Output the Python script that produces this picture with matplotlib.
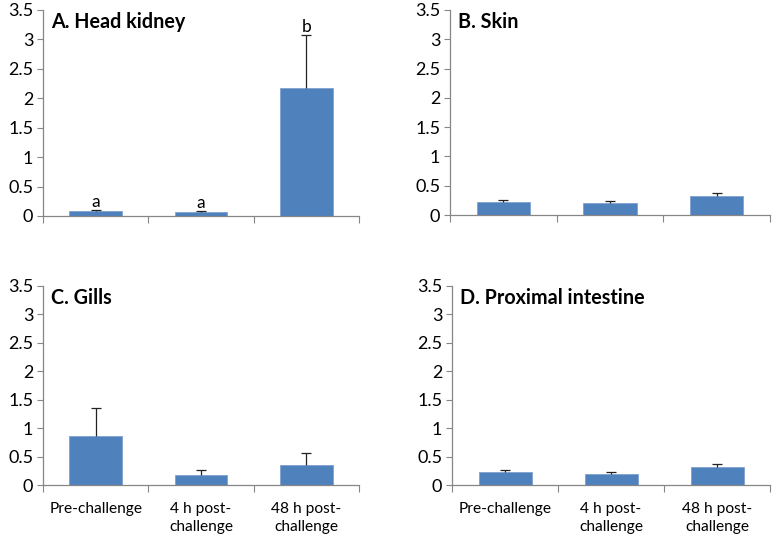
import numpy as np
import matplotlib.pyplot as plt
from matplotlib.ticker import FixedLocator, FuncFormatter

plt.rcParams['font.family'] = ['Lato', 'DejaVu Sans']

categories = ['Pre-challenge', '4 h post-\nchallenge', '48 h post-\nchallenge']
titles = ['A. Head kidney', 'B. Skin', 'C. Gills', 'D. Proximal intestine']
means = [
    [0.085, 0.07, 2.17],
    [0.23, 0.20, 0.32],
    [0.86, 0.18, 0.35],
    [0.23, 0.20, 0.32],
]
errors = [
    [0.025, 0.02, 0.90],
    [0.03, 0.04, 0.05],
    [0.50, 0.09, 0.22],
    [0.03, 0.035, 0.055],
]
letters = [['a', 'a', 'b'], None, None, None]

bar_color = '#4F81BD'
axis_color = '#868686'

fig = plt.figure(figsize=(7.76, 5.39), dpi=100)
W, H = 776, 539
boxes = [(43, 10, 359, 216), (450, 10, 770, 215), (43, 286, 359, 485), (452, 286, 770, 485)]

x = np.arange(len(categories))
for i, (l, t, r, b) in enumerate(boxes):
    ax = fig.add_axes([l / W, 1 - b / H, (r - l) / W, (b - t) / H])
    ax.bar(x, means[i], width=0.5, color=bar_color, edgecolor='#7FA2D0', linewidth=0.6, zorder=2)
    eb = ax.errorbar(x, means[i], yerr=[np.zeros(3), errors[i]], fmt='none', ecolor='#222222',
                     elinewidth=0.9, capsize=3.5, capthick=0.9, zorder=3)
    eb[1][0].set_visible(False)
    if letters[i]:
        for xi, m, e, s in zip(x, means[i], errors[i], letters[i]):
            ax.text(xi, m + e, s, ha='center', va='bottom', fontsize=12.5)
    ax.set_xlim(-0.5, 2.5)
    ax.set_ylim(0, 3.5)
    ax.set_yticks(np.arange(0, 3.51, 0.5))
    ax.yaxis.set_major_formatter(FuncFormatter(lambda v, p: f'{v:g}'))
    ax.xaxis.set_major_locator(FixedLocator([-0.5, 0.5, 1.5, 2.5]))
    ax.set_xticklabels([])
    ax.xaxis.set_minor_locator(FixedLocator(x))
    if i >= 2:
        ax.set_xticklabels(categories, minor=True, fontsize=11.2, linespacing=1.4)
    ax.tick_params(axis='x', which='minor', length=0, pad=12)
    ax.tick_params(axis='x', which='major', length=5, color=axis_color, direction='out')
    ax.tick_params(axis='y', length=4, color=axis_color, labelsize=13, pad=3)
    for s in ['top', 'right']:
        ax.spines[s].set_visible(False)
    for s in ['left', 'bottom']:
        ax.spines[s].set_color(axis_color)
        ax.spines[s].set_linewidth(0.9)
    ax.text(0.025, 0.99, titles[i], transform=ax.transAxes, fontsize=14.2,
            fontweight='bold', va='top', ha='left')

fig.savefig('out.png', dpi=100)
